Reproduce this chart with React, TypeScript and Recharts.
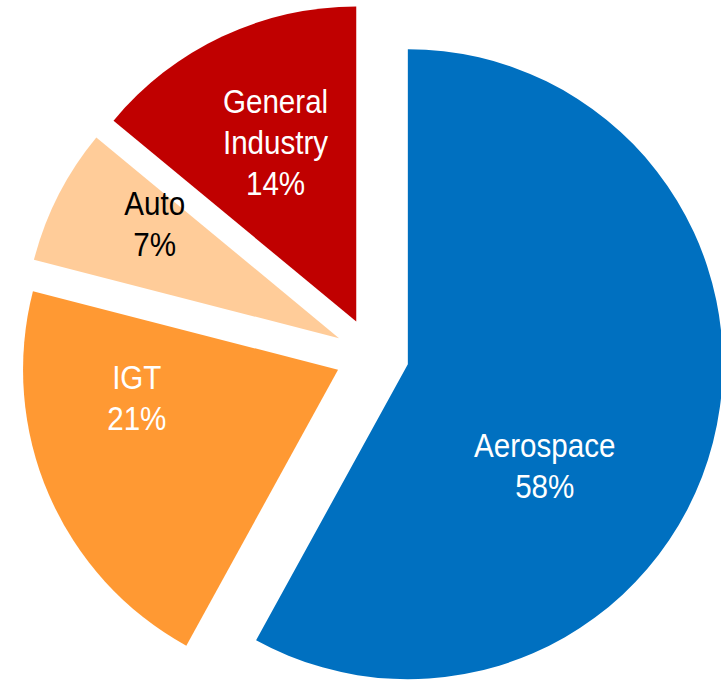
import React from 'react';
import { PieChart, Pie, Cell, Sector } from 'recharts';

const segments = ['Aerospace', 'IGT', 'Auto', 'General Industry'];
const shares = [58, 21, 7, 14];

const data = segments.map((name, i) => ({ name, value: shares[i] }));

const COLORS = ['#0070C0', '#FF9933', '#FFCC99', '#C00000'];
const TEXT_COLORS = ['#FFFFFF', '#FFFFFF', '#000000', '#FFFFFF'];

// every slice is pulled out of the centre by the same distance
const EXPLODE = 37;
// hand-placed data labels: angle nudge (deg) and distance as share of radius
const LABEL_ANGLE_SHIFT = [-22, -15.5, -5, -1];
const LABEL_RADIUS_RATIO = [0.54, 0.645, 0.69, 0.625];

const RAD = Math.PI / 180;
const FONT_SIZE = 34;
const LINE_GAP = 41;

const shiftCenter = (cx: number, cy: number, angle: number, d: number) => [
  cx + d * Math.cos(-angle * RAD),
  cy + d * Math.sin(-angle * RAD),
];

const renderSlice = (props: any) => {
  const [x, y] = shiftCenter(props.cx, props.cy, props.midAngle, EXPLODE);
  return <Sector {...props} cx={x} cy={y} stroke="none" />;
};

const renderLabel = (props: any) => {
  const { cx, cy, midAngle, outerRadius, index, payload } = props;
  const [sx, sy] = shiftCenter(cx, cy, midAngle, EXPLODE);
  const a = midAngle + LABEL_ANGLE_SHIFT[index];
  const r = outerRadius * LABEL_RADIUS_RATIO[index];
  const x = sx + r * Math.cos(-a * RAD);
  const y = sy + r * Math.sin(-a * RAD);
  const name = payload?.name ?? props.name;
  const val = payload?.value ?? props.value;
  const lines = [...String(name).split(' '), `${val}%`];
  const first = -((lines.length - 1) * LINE_GAP) / 2 + FONT_SIZE * 0.358;
  return (
    <text
      key={`label-${index}`}
      transform={`translate(${x},${y}) scale(0.87,1)`}
      textAnchor="middle"
      fill={TEXT_COLORS[index]}
      fontSize={FONT_SIZE}
      fontFamily="'Liberation Sans', Arial, sans-serif"
    >
      {lines.map((l, i) => (
        <tspan key={i} x={0} y={first + i * LINE_GAP}>
          {l}
        </tspan>
      ))}
    </text>
  );
};

export default function App() {
  return (
    <div style={{ position: 'absolute', left: 0, top: 0, width: 721, height: 681 }}>
      <PieChart width={721} height={681} margin={{ top: 0, right: 0, bottom: 0, left: 0 }}>
        <Pie
          data={data}
          dataKey="value"
          nameKey="name"
          cx={372}
          cy={355}
          outerRadius={315}
          startAngle={90}
          endAngle={-270}
          stroke="none"
          shape={renderSlice}
          label={renderLabel}
          labelLine={false}
          isAnimationActive={false}
        >
          {data.map((d, i) => (
            <Cell key={d.name} fill={COLORS[i]} />
          ))}
        </Pie>
      </PieChart>
    </div>
  );
}
